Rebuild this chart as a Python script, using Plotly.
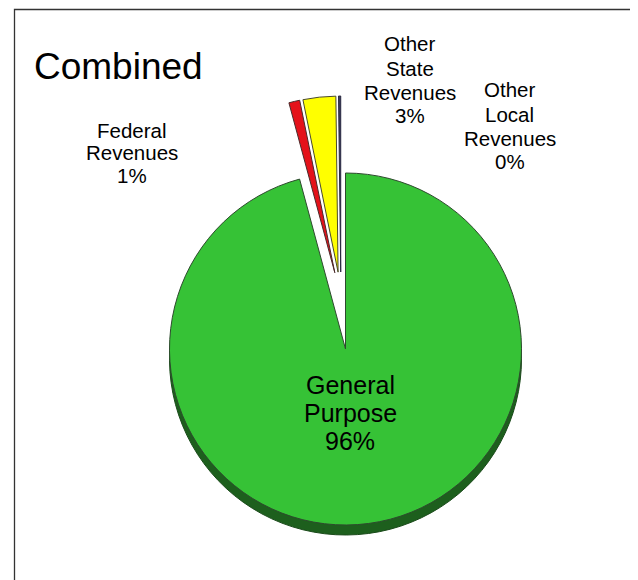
import plotly.graph_objects as go

# ---- data ----
categories = ["General Purpose", "Federal Revenues", "Other State Revenues", "Other Local Revenues"]
values = [95.8, 1.0, 3.0, 0.2]
colors = ["#36c236", "#e4121a", "#ffff00", "#3b3b5c"]
title_text = "Combined"

# The page body has an 8px default margin; the figure is sized so that it
# ends exactly at the window edge, and window pixel coords are converted.
OFF = 8
W, H = 638 - OFF, 580 - OFF


def px(x):
    return (x - OFF) / W


def py(y):
    return 1 - (y - OFF) / H


def domain(cx, cy, R):
    return dict(x=[px(cx - R), px(cx + R)], y=[py(cy + R), py(cy - R)])


total = sum(values)
pct = [f"{round(v / total * 100):.0f}%" for v in values]
CLEAR = "rgba(0,0,0,0)"

fig = go.Figure()

# rim / shadow of the green slice (3D edge)
fig.add_trace(go.Pie(
    values=values, labels=categories, sort=False, direction="clockwise", rotation=0,
    marker=dict(colors=["#1d5f1d", CLEAR, CLEAR, CLEAR],
                line=dict(color=["#1a4a1a", CLEAR, CLEAR, CLEAR], width=[1, 0, 0, 0])),
    textinfo="none", hoverinfo="skip", showlegend=False,
    domain=domain(345.5, 359, 176),
))

# main green slice
fig.add_trace(go.Pie(
    values=values, labels=categories, sort=False, direction="clockwise", rotation=0,
    marker=dict(colors=[colors[0], CLEAR, CLEAR, CLEAR],
                line=dict(color=["#2e4a2e", CLEAR, CLEAR, CLEAR], width=[1, 0, 0, 0])),
    textinfo="none", showlegend=False,
    domain=domain(345.5, 349, 176),
))

# exploded small slices
pull = 0.15
R_small = 176 * (1 + pull)
fig.add_trace(go.Pie(
    values=values, labels=categories, sort=False, direction="clockwise", rotation=0,
    pull=[0, pull, pull, pull],
    marker=dict(colors=[CLEAR, colors[1], colors[2], colors[3]],
                line=dict(color=[CLEAR, "#4a2a2a", "#4a4a2a", "#2a2a40"], width=[0, 1, 1, 1])),
    textinfo="none", showlegend=False,
    domain=domain(340.9, 298.4, R_small),
))

FONT = "Arial, Liberation Sans, sans-serif"

annotations = [
    dict(text=title_text, x=px(118), y=py(67), xref="paper", yref="paper",
         showarrow=False, xanchor="center", yanchor="middle",
         font=dict(family=FONT, size=37, color="#000")),
]

# label blocks: (x center, first line center y, line spacing, font size)
label_pos = [
    (350, 385, 28, 25),
    (132, 130, 22.5, 20.5),
    (410, 44, 24, 20.5),
    (510, 90, 24, 20.5),
]
for i, cat in enumerate(categories):
    lines = cat.split(" ") + [pct[i]]
    cx, y0, sp, fs = label_pos[i]
    for j, ln in enumerate(lines):
        annotations.append(dict(
            text=ln, x=px(cx), y=py(y0 + j * sp), xref="paper", yref="paper",
            showarrow=False, xanchor="center", yanchor="middle",
            font=dict(family=FONT, size=fs, color="#000")))

fig.update_layout(
    width=W, height=H, autosize=False,
    margin=dict(l=0, r=0, t=0, b=0),
    paper_bgcolor="white", plot_bgcolor="white",
    annotations=annotations,
    shapes=[dict(type="rect", xref="paper", yref="paper",
                 x0=px(14.5), x1=px(635), y0=py(9.5), y1=-0.2,
                 line=dict(color="#333333", width=1.3), fillcolor=CLEAR,
                 layer="below")],
)

fig.write_html("out.html")
